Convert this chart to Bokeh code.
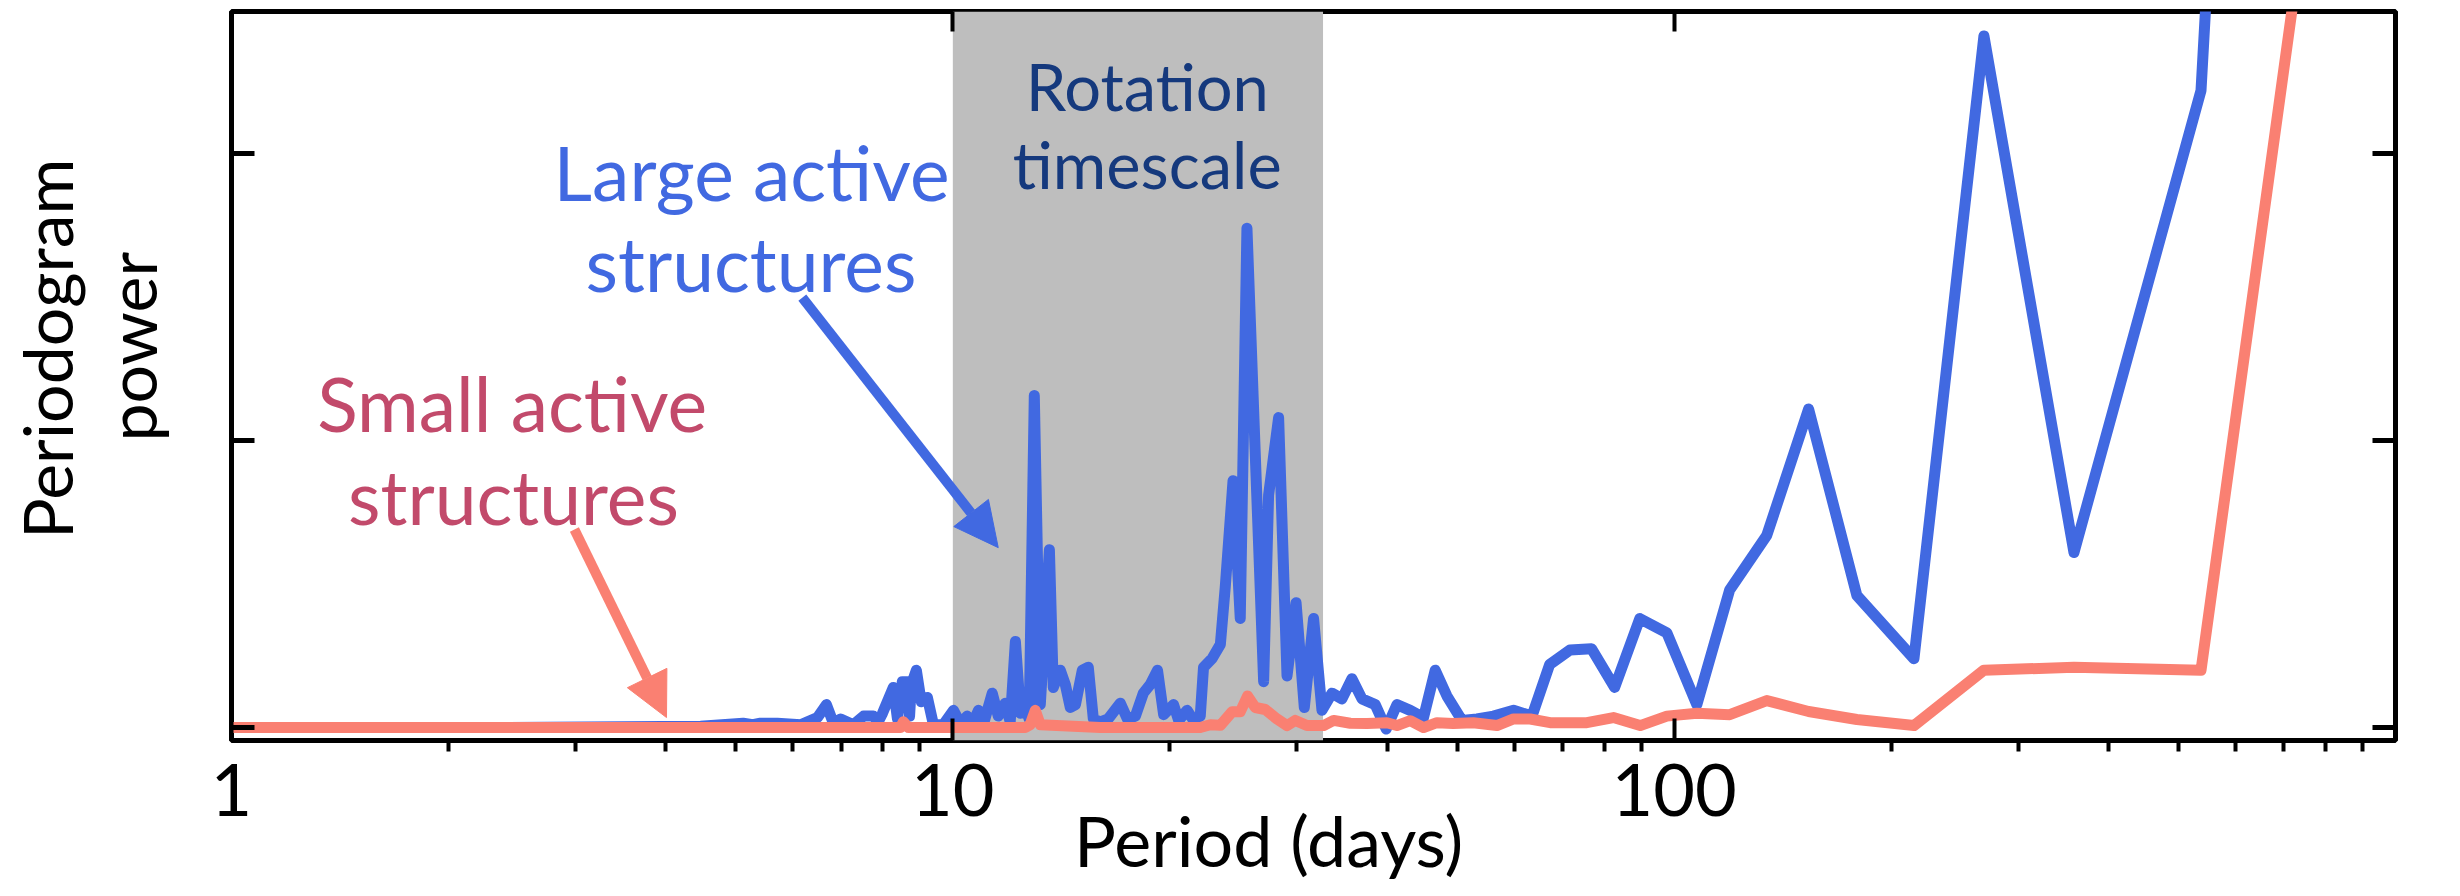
import numpy as np
from bokeh.plotting import figure
from bokeh.models import (Range1d, LogAxis, LinearAxis, FixedTicker, CustomJSTickFormatter,
                          BoxAnnotation, Label, Arrow, NormalHead)
from bokeh.embed import file_html
from bokeh.resources import INLINE

# ---------------- data ----------------
blue_period = [1.0, 2.36, 4.47, 5.12, 5.28, 5.41, 5.71, 6.15, 6.49, 6.68, 6.83, 6.99, 7.28, 7.52,
               7.76, 7.88, 7.99, 8.27, 8.38, 8.51, 8.65, 8.71, 8.76, 8.90, 9.04, 9.22, 9.40, 9.70,
               10.02, 10.24, 10.47, 10.64, 10.85, 11.02, 11.34, 11.56, 11.82, 12.01, 12.21, 12.41,
               12.57, 12.76, 12.97, 13.22, 13.61, 13.78, 14.09, 14.32, 14.55, 14.79, 15.12, 15.41,
               15.66, 16.01, 16.42, 17.07, 17.46, 17.91, 18.37, 18.78, 19.22, 19.60, 20.23, 20.56,
               21.12, 21.57, 22.03, 22.26, 22.87, 23.49, 23.86, 24.46, 25.03, 25.57, 26.97, 27.40,
               28.29, 29.06, 29.91, 30.71, 31.63, 32.49, 33.54, 34.63, 35.75, 36.92, 38.51, 39.88,
               41.27, 43.06, 44.93, 46.64, 48.42, 50.79, 53.28, 56.17, 59.89, 63.51, 67.2, 71.7,
               76.8, 82.7, 89.6, 97.7, 107.5, 119.4, 134.4, 153.6, 179.2, 215.0, 268.8, 358.3,
               537.5, 1075.0]
blue_power = [0.0, 0.0, 0.005, 0.015, 0.01, 0.015, 0.015, 0.01, 0.035, 0.08, 0.015, 0.03, 0.01, 0.04,
              0.04, 0.02, 0.05, 0.14, 0.03, 0.16, 0.16, 0.04, 0.15, 0.20, 0.09, 0.105, 0.01, 0.01,
              0.06, 0.015, 0.04, 0.01, 0.06, 0.01, 0.12, 0.04, 0.085, 0.02, 0.30, 0.05,
              0.08, 0.03, 1.157, 0.08, 0.62, 0.14, 0.20, 0.15, 0.07, 0.08, 0.20, 0.21,
              0.03, 0.02, 0.03, 0.085, 0.03, 0.04, 0.12, 0.15, 0.20, 0.045, 0.08, 0.025,
              0.06, 0.025, 0.04, 0.21, 0.24, 0.29, 0.49, 0.86, 0.38, 1.74, 0.16, 0.81,
              1.08, 0.18, 0.435, 0.07, 0.38, 0.06, 0.12, 0.10, 0.17, 0.10, 0.08, -0.005,
              0.08, 0.06, 0.035, 0.20, 0.11, 0.025, 0.03, 0.04, 0.06, 0.04, 0.22, 0.27,
              0.275, 0.14, 0.38, 0.33, 0.08, 0.48, 0.67, 1.11, 0.46, 0.24, 2.41, 0.61,
              2.22, 15.8]

red_period = [1.0, 8.46, 8.54, 8.68, 12.60, 12.80, 13.01, 13.22, 16.01, 22.03, 22.75, 23.49, 24.38,
              25.03, 25.62, 26.26, 27.11, 28.14, 29.06, 29.84, 30.97, 32.66, 33.72, 35.56, 37.51,
              39.97, 41.27, 43.06, 44.93, 46.89, 49.40, 52.66, 56.79, 59.89, 63.15, 67.31, 75.68,
              82.37, 89.72, 97.7, 107.5, 119.4, 134.4, 153.6, 179.2, 215.0, 268.8, 358.3, 537.5,
              1075.0]
red_power = [0.0, 0.0, 0.02, 0.0, 0.0, 0.01, 0.06, 0.01, 0.0, 0.0, 0.01, 0.008, 0.055,
             0.055, 0.11, 0.07, 0.063, 0.03, 0.007, 0.025, 0.007, 0.007, 0.025, 0.015, 0.014,
             0.017, 0.007, 0.024, 0.0, 0.017, 0.014, 0.017, 0.007, 0.03, 0.03, 0.017, 0.017,
             0.035, 0.007, 0.04, 0.05, 0.045, 0.094, 0.056, 0.028, 0.007, 0.20, 0.21, 0.20,
             5.69]

rotation_band = [10.0, 32.6]          # days
x_major_ticks = [1, 10, 100, 1000]
x_tick_labels = ["1", "10", "100"]
x_minor_ticks = [2, 3, 4, 5, 6, 7, 8, 9, 20, 30, 40, 50, 60, 70, 80, 90,
                 200, 300, 400, 500, 600, 700, 800, 900]
y_ticks = [0, 1, 2]
x_title = "Period (days)"
y_title_lines = ["Periodogram", "power"]

BLUE = "#4169E1"
SALMON = "#FA8072"
PINK_TEXT = "#C24A6B"
NAVY_TEXT = "#15397D"
FONT = "Lato"

p = figure(width=2460, height=896, x_axis_type="log",
           x_range=Range1d(1, 1000), y_range=Range1d(-0.045, 2.495),
           x_axis_location=None, y_axis_location=None,
           output_backend="svg", toolbar_location=None,
           min_border_left=231, min_border_right=65, min_border_top=11, min_border_bottom=156)
p.xgrid.visible = False
p.ygrid.visible = False
p.outline_line_color = "black"
p.outline_line_width = 5
p.background_fill_color = "white"
p.border_fill_color = "white"

label_fmt = CustomJSTickFormatter(args=dict(labels=x_tick_labels),
                                  code="const i = Math.round(Math.log10(tick)); return i < labels.length ? labels[i] : '';")
blank_fmt = CustomJSTickFormatter(code="return '';")


def title_axis(cls, pos, text, size, standoff, vertical=False):
    ax = cls(ticker=FixedTicker(ticks=[pos], minor_ticks=[]),
             formatter=CustomJSTickFormatter(args=dict(t=text), code="return t;"))
    ax.axis_line_color = None
    ax.major_tick_line_color = None
    ax.minor_tick_line_color = None
    ax.major_tick_in = 0
    ax.major_tick_out = 0
    ax.minor_tick_in = 0
    ax.minor_tick_out = 0
    ax.major_label_text_font = FONT
    ax.major_label_text_font_size = size
    ax.major_label_text_color = "black"
    ax.major_label_standoff = standoff
    if vertical:
        ax.major_label_orientation = "vertical"
    return ax


# bottom: tick axis, then "Period (days)"
bottom = LogAxis(ticker=FixedTicker(ticks=x_major_ticks, minor_ticks=x_minor_ticks), formatter=label_fmt)
bottom.axis_line_color = None
bottom.major_tick_in = 22
bottom.major_tick_out = 0
bottom.minor_tick_in = 0
bottom.minor_tick_out = 11
bottom.major_tick_line_width = 4
bottom.minor_tick_line_width = 4
bottom.major_tick_line_color = "black"
bottom.minor_tick_line_color = "black"
bottom.major_label_text_font = FONT
bottom.major_label_text_font_size = "72px"
bottom.major_label_text_color = "black"
bottom.major_label_standoff = 12
p.add_layout(bottom, "below")
p.add_layout(title_axis(LogAxis, 27.4, x_title, "70px", -21), "below")

top = LogAxis(ticker=FixedTicker(ticks=x_major_ticks, minor_ticks=[]), formatter=blank_fmt)
top.axis_line_color = None
top.major_tick_in = 20
top.major_tick_out = 0
top.minor_tick_in = 0
top.minor_tick_out = 0
top.major_tick_line_width = 4
top.major_label_text_font_size = "1px"
top.major_label_standoff = 0
p.add_layout(top, "above")

for side in ("left", "right"):
    ax = LinearAxis(ticker=FixedTicker(ticks=y_ticks, minor_ticks=[]), formatter=blank_fmt)
    ax.axis_line_color = None
    ax.major_tick_in = 23
    ax.major_tick_out = 0
    ax.minor_tick_in = 0
    ax.minor_tick_out = 0
    ax.major_tick_line_width = 5
    ax.major_label_text_font_size = "1px"
    ax.major_label_standoff = 0
    p.add_layout(ax, side)

# left: "power" (inner line) then "Periodogram" (outer line)
p.add_layout(title_axis(LinearAxis, 1.327, y_title_lines[1], "68px", 60, vertical=True), "left")
p.add_layout(title_axis(LinearAxis, 1.32, y_title_lines[0], "68px", 0, vertical=True), "left")

band = BoxAnnotation(left=rotation_band[0], right=rotation_band[1], fill_color="#BEBEBE",
                     fill_alpha=1.0, line_color=None, level="underlay")
p.add_layout(band)

p.line(blue_period, blue_power, line_color=BLUE, line_width=11, line_join="round")
p.line(red_period, red_power, line_color=SALMON, line_width=11, line_join="round")


def add_label(x, y, text, color, size):
    p.add_layout(Label(x=x, y=y, text=text, text_color=color, text_font=FONT,
                       text_font_size=size, text_align="center", text_baseline="alphabetic"))


add_label(5.26, 1.937, "Large active", BLUE, "75px")
add_label(5.25, 1.617, "structures", BLUE, "75px")
add_label(2.45, 1.132, "Small active", PINK_TEXT, "75px")
add_label(2.46, 0.808, "structures", PINK_TEXT, "75px")
add_label(18.6, 2.237, "Rotation", NAVY_TEXT, "65px")
add_label(18.6, 1.965, "timescale", NAVY_TEXT, "65px")

p.add_layout(Arrow(end=NormalHead(size=44, fill_color=BLUE, line_color=BLUE, line_width=1),
                   x_start=6.185, y_start=1.498, x_end=11.56, y_end=0.627,
                   line_color=BLUE, line_width=10))
p.add_layout(Arrow(end=NormalHead(size=44, fill_color=SALMON, line_color=SALMON, line_width=1),
                   x_start=2.988, y_start=0.690, x_end=4.009, y_end=0.035,
                   line_color=SALMON, line_width=10))

open("out.html", "w").write(file_html(p, INLINE))
